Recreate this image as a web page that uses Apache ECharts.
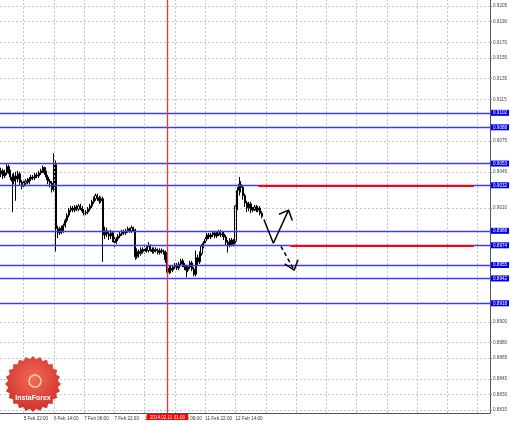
<!DOCTYPE html>
<html><head><meta charset="utf-8">
<script src="https://cdn.jsdelivr.net/npm/echarts@6/dist/echarts.min.js"></script>
<style>html,body{margin:0;padding:0;background:#fff}#c{width:510px;height:424px}</style>
</head><body><div id="c"></div>
<script>
// ---------- data ----------
const startTime = '2014-02-05T10:00:00Z';   // first hourly bar
const totalBars = 259;                        // visible hourly slots (incl. empty future)

// [open, close, low, high]
const candles = [
[0.9043,0.9046,0.9040,0.9049],[0.9046,0.9041,0.9038,0.9048],[0.9041,0.9044,0.9039,0.9047],[0.9044,0.9050,0.9042,0.9053],
[0.9050,0.9045,0.9043,0.9052],[0.9045,0.9040,0.9037,0.9047],[0.9040,0.9036,0.9006,0.9043],[0.9036,0.9041,0.9033,0.9044],
[0.9041,0.9038,0.9017,0.9045],[0.9038,0.9043,0.9035,0.9046],[0.9043,0.9035,0.9032,0.9045],[0.9035,0.9031,0.9028,0.9037],
[0.9031,0.9034,0.9029,0.9036],[0.9034,0.9036,0.9032,0.9038],[0.9036,0.9035,0.9033,0.9039],[0.9035,0.9038,0.9033,0.9040],
[0.9038,0.9040,0.9036,0.9042],[0.9040,0.9039,0.9037,0.9042],[0.9039,0.9042,0.9037,0.9044],[0.9042,0.9041,0.9039,0.9044],
[0.9041,0.9044,0.9039,0.9046],[0.9044,0.9046,0.9042,0.9048],[0.9046,0.9049,0.9044,0.9051],[0.9049,0.9044,0.9042,0.9050],
[0.9044,0.9040,0.9037,0.9046],[0.9040,0.9036,0.9033,0.9042],[0.9036,0.9034,0.9030,0.9038],[0.9034,0.9028,0.9025,0.9036],
[0.9028,0.9052,0.9026,0.9063],[0.9052,0.8990,0.8968,0.9056],[0.8990,0.8986,0.8981,0.8993],[0.8986,0.8990,0.8984,0.8992],
[0.8990,0.8988,0.8985,0.8993],[0.8988,0.8993,0.8986,0.8995],[0.8993,0.8998,0.8991,0.9000],[0.8998,0.9003,0.8996,0.9005],
[0.9003,0.9008,0.9001,0.9010],[0.9008,0.9010,0.9006,0.9012],[0.9010,0.9008,0.9006,0.9012],[0.9008,0.9011,0.9006,0.9013],
[0.9011,0.9009,0.9007,0.9013],[0.9009,0.9012,0.9007,0.9014],[0.9012,0.9010,0.9008,0.9014],[0.9010,0.9007,0.9005,0.9012],
[0.9007,0.9005,0.9003,0.9009],[0.9005,0.9006,0.9003,0.9008],[0.9006,0.9009,0.9004,0.9011],[0.9009,0.9012,0.9007,0.9014],
[0.9012,0.9016,0.9010,0.9018],[0.9016,0.9019,0.9014,0.9021],[0.9019,0.9022,0.9017,0.9024],[0.9022,0.9020,0.9017,0.9024],
[0.9020,0.9017,0.9014,0.9022],[0.9017,0.9019,0.9015,0.9021],[0.9019,0.8984,0.8958,0.9021],[0.8984,0.8988,0.8980,0.8992],
[0.8988,0.8985,0.8982,0.8991],[0.8985,0.8983,0.8979,0.8988],[0.8983,0.8986,0.8980,0.8989],[0.8986,0.8980,0.8977,0.8988],
[0.8980,0.8977,0.8972,0.8982],[0.8977,0.8980,0.8975,0.8982],[0.8980,0.8983,0.8978,0.8985],[0.8983,0.8985,0.8981,0.8987],
[0.8985,0.8987,0.8983,0.8989],[0.8987,0.8986,0.8984,0.8989],[0.8986,0.8988,0.8984,0.8990],[0.8988,0.8990,0.8986,0.8992],
[0.8990,0.8988,0.8986,0.8991],[0.8988,0.8991,0.8986,0.8993],[0.8991,0.8989,0.8987,0.8992],[0.8989,0.8963,0.8960,0.8990],
[0.8963,0.8968,0.8961,0.8971],[0.8968,0.8966,0.8962,0.8970],[0.8966,0.8970,0.8964,0.8972],[0.8970,0.8968,0.8966,0.8972],
[0.8968,0.8971,0.8966,0.8973],[0.8971,0.8969,0.8967,0.8973],[0.8969,0.8973,0.8967,0.8977],[0.8973,0.8970,0.8968,0.8975],
[0.8970,0.8968,0.8966,0.8972],[0.8968,0.8970,0.8966,0.8972],[0.8970,0.8969,0.8967,0.8972],[0.8969,0.8967,0.8965,0.8971],
[0.8967,0.8969,0.8965,0.8971],[0.8969,0.8968,0.8966,0.8971],[0.8968,0.8967,0.8965,0.8970],[0.8967,0.8960,0.8957,0.8969],
[0.8960,0.8948,0.8941,0.8962],[0.8948,0.8952,0.8946,0.8954],[0.8952,0.8950,0.8947,0.8954],[0.8950,0.8953,0.8948,0.8955],
[0.8953,0.8955,0.8951,0.8957],[0.8955,0.8952,0.8950,0.8957],[0.8952,0.8956,0.8950,0.8958],[0.8956,0.8959,0.8954,0.8961],
[0.8959,0.8955,0.8953,0.8961],[0.8955,0.8953,0.8950,0.8957],[0.8953,0.8950,0.8943,0.8955],[0.8950,0.8953,0.8948,0.8955],
[0.8953,0.8957,0.8951,0.8959],[0.8957,0.8951,0.8949,0.8959],[0.8951,0.8946,0.8944,0.8953],[0.8946,0.8962,0.8944,0.8969],
[0.8962,0.8958,0.8955,0.8965],[0.8958,0.8966,0.8956,0.8968],[0.8966,0.8973,0.8964,0.8975],[0.8973,0.8976,0.8971,0.8978],
[0.8976,0.8980,0.8974,0.8982],[0.8980,0.8984,0.8978,0.8986],[0.8984,0.8982,0.8980,0.8986],[0.8982,0.8984,0.8980,0.8986],
[0.8984,0.8986,0.8982,0.8988],[0.8986,0.8983,0.8981,0.8988],[0.8983,0.8985,0.8981,0.8987],[0.8985,0.8987,0.8983,0.8989],
[0.8987,0.8984,0.8982,0.8989],[0.8984,0.8985,0.8982,0.8987],[0.8985,0.8982,0.8979,0.8987],[0.8982,0.8977,0.8974,0.8984],
[0.8977,0.8974,0.8967,0.8979],[0.8974,0.8979,0.8972,0.8981],[0.8979,0.8975,0.8973,0.8981],[0.8975,0.8978,0.8973,0.8980],
[0.8978,0.9012,0.8976,0.9015],[0.9012,0.9027,0.9008,0.9030],[0.9027,0.9033,0.9022,0.9040],[0.9033,0.9030,0.9025,0.9036],
[0.9030,0.9022,0.9018,0.9032],[0.9022,0.9015,0.9011,0.9024],[0.9015,0.9010,0.9006,0.9017],[0.9010,0.9014,0.9007,0.9016],
[0.9014,0.9008,0.9005,0.9016],[0.9008,0.9009,0.9006,0.9011],[0.9009,0.9011,0.9007,0.9013],[0.9011,0.9008,0.9006,0.9013],
[0.9008,0.9010,0.9006,0.9012],[0.9010,0.9005,0.9003,0.9012],[0.9005,0.9002,0.9000,0.9007]
];

const yMin = 0.8812, yMax = 0.9211;
const yTickLabels = [0.9205,0.9190,0.9170,0.9155,0.9135,0.9115,0.9075,0.9045,0.9010,0.8900,0.8880,0.8865,0.8845,0.8830,0.8815];
const levelValues = [0.9102,0.9088,0.9053,0.9032,0.8988,0.8974,0.8955,0.8942,0.8918];
const xLabels = ['5 Feb 22:00','6 Feb 14:00','7 Feb 06:00','7 Feb 22:00','10 Feb 14:00','11 Feb 06:00','11 Feb 22:00','12 Feb 14:00'];
const xGridStart = 12, xGridStep = 16;      // vertical grid at every time-label slot
const vLineBar = 88, vLineText = '2014.02.11 01:00';
const resistance = {value:0.9032, from:136, to:250};
const support    = {value:0.8974, from:153, to:250};
const upPath     = [[139,0.8999],[144,0.8976],[152,0.9008]];
const upHead     = [[147,0.9004],[152,0.9008],[154,0.8998]];
const downPath   = [[148,0.8973],[155,0.8950]];
const downHead   = [[150,0.8956],[155,0.8950],[157,0.8960]];

// ---------- categories ----------
const MONTHS=['Jan','Feb','Mar','Apr','May','Jun','Jul','Aug','Sep','Oct','Nov','Dec'];
const pad = n => (n<10?'0':'')+n;
const categories = [];
let t = Date.parse(startTime);
while (categories.length < totalBars) {
  const d = new Date(t);
  const wd = d.getUTCDay();
  if (wd !== 0 && wd !== 6) categories.push(d.getUTCDate()+' '+MONTHS[d.getUTCMonth()]+' '+pad(d.getUTCHours())+':00');
  t += 3600000;
}

const FONT = 'Liberation Sans';
const FS = 4.6;

const gridLines = [];
for (let i = xGridStart; i < totalBars; i += xGridStep) {
  gridLines.push({xAxis: categories[i]});
}

const levelData = levelValues.map(v => ({
  yAxis: v,
  label:{formatter: v.toFixed(4)}
}));

// logo shape
const logoPts = [];
for (let k=0;k<48;k++){
  const a = k/48*Math.PI*2;
  const r = (k%2===0)?28:25;
  logoPts.push([33+r*Math.cos(a), 384+r*Math.sin(a)]);
}

const chart = echarts.init(document.getElementById('c'), null, {renderer:'canvas'});
chart.setOption({
  backgroundColor:'#ffffff',
  animation:false,
  grid:{left:0, right:20, top:0, bottom:11, containLabel:false, outerBoundsMode:'none'},
  xAxis:{
    type:'category', data:categories, boundaryGap:true,
    axisLine:{show:true, lineStyle:{color:'#555', width:1}},
    axisTick:{show:false},
    axisLabel:{interval:(i,v)=>xLabels.indexOf(v)>=0, align:'left', margin:3,
               fontSize:FS, fontFamily:FONT, color:'#333', hideOverlap:false},
    splitLine:{show:false}
  },
  yAxis:{
    type:'value', position:'right', min:yMin, max:yMax,
    axisLine:{show:true, lineStyle:{color:'#555', width:1}},
    axisTick:{show:true, length:2, customValues:yTickLabels, lineStyle:{color:'#888'}},
    axisLabel:{customValues:yTickLabels, formatter:v=>v.toFixed(4), fontSize:FS, fontFamily:FONT, color:'#444', margin:3},
    splitLine:{show:true, lineStyle:{color:'#c8c8c8', type:[2,2], width:1}}
  },
  graphic:[
    {type:'polygon', shape:{points:logoPts}, z:100,
     style:{fill:new echarts.graphic.RadialGradient(0.5,0.4,0.7,[{offset:0,color:'#f36a5c'},{offset:1,color:'#c8281f'}])}},
    {type:'circle', shape:{cx:35, cy:381, r:6}, z:101, style:{fill:'none', stroke:'#ffd9a0', lineWidth:1.5}},
    {type:'text', x:33, y:395, z:101, style:{text:'InstaForex', fill:'#ffffff', font:'bold 7px '+FONT, align:'center'}}
  ],
  series:[
    {type:'line', data:[], silent:true, z:1,
     markLine:{silent:true, symbol:['none','none'], animation:false, precision:6,
       lineStyle:{color:'#c4c4c4', width:1, type:[2,2]}, label:{show:false}, data:gridLines}},
    {type:'line', data:[], silent:true, z:3,
     markLine:{
       silent:true, symbol:['none','none'], animation:false, precision:6,
       lineStyle:{color:'#3c3cff', width:1.3, type:'solid'},
       label:{show:true, position:'end', distance:1,
              backgroundColor:'#0000ee', color:'#ffffff', fontSize:FS, fontFamily:FONT, padding:[1,2,0,2]},
       data:levelData
     }},
    {
      type:'candlestick', data:candles, barWidth:1.6, z:4,
      itemStyle:{color:'#ffffff', color0:'#000000', borderColor:'#000000', borderColor0:'#000000', borderWidth:1}
    },
    {type:'line', data:[], silent:true, z:5,
     markLine:{
       silent:true, symbol:['none','none'], animation:false, precision:6,
       lineStyle:{color:'#ff3030', width:1.3, type:'solid'},
       label:{show:true, position:'start', distance:1, formatter:vLineText, backgroundColor:'#ff0000',
              color:'#ffffff', fontSize:FS, fontFamily:FONT, padding:[1,3,0,3]},
       data:[{xAxis: categories[vLineBar]}]
     }},
    {type:'line', data:[], silent:true, z:5,
     markLine:{
       silent:true, symbol:['none','none'], animation:false, precision:6,
       lineStyle:{color:'#ff0000', width:2, type:'solid'}, label:{show:false},
       data:[
         [{coord:[categories[resistance.from], resistance.value]}, {coord:[categories[resistance.to], resistance.value]}],
         [{coord:[categories[support.from], support.value]}, {coord:[categories[support.to], support.value]}]
       ]
     }},
    {type:'line', data:upPath, symbol:'none', lineStyle:{color:'#000', width:1.5}, z:6},
    {type:'line', data:upHead, symbol:'none', lineStyle:{color:'#000', width:1.5}, z:6},
    {type:'line', data:downPath, symbol:'none', lineStyle:{color:'#000', width:1.5, type:[4,3]}, z:6},
    {type:'line', data:downHead, symbol:'none', lineStyle:{color:'#000', width:1.5}, z:6}
  ]
});
</script></body></html>
